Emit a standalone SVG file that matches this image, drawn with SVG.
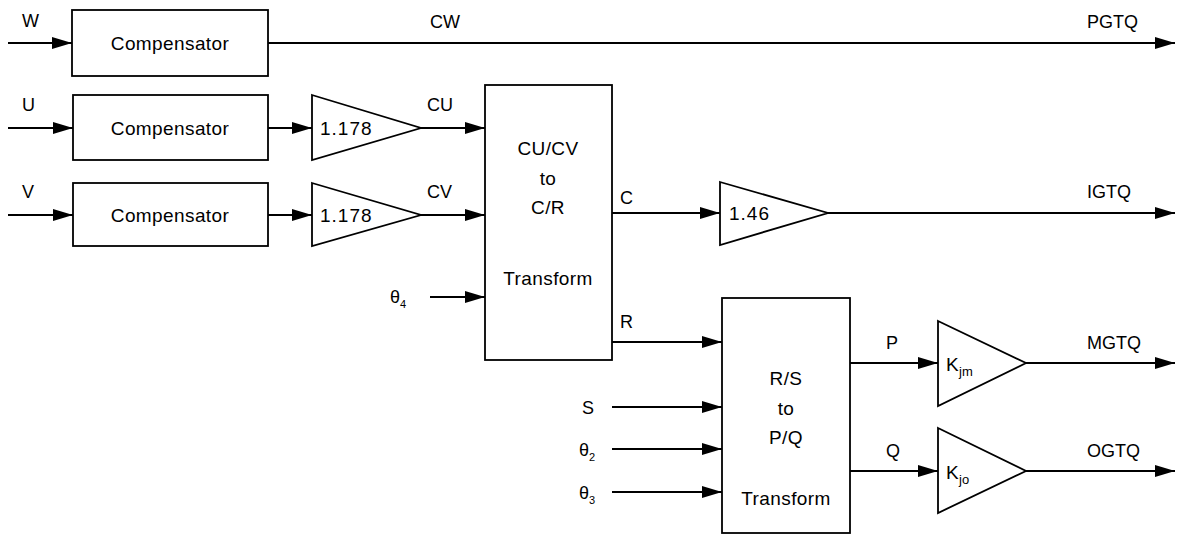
<svg xmlns="http://www.w3.org/2000/svg" width="1177" height="536" viewBox="0 0 1177 536">
<style>
.b{fill:#fff;stroke:#000;stroke-width:1.8}
.l{fill:none;stroke:#000;stroke-width:1.8}
text{font-family:"Liberation Sans",Arial,sans-serif;font-size:18px;fill:#000}
.m{text-anchor:middle}
.c{font-size:19px;letter-spacing:0.4px}
.g{font-size:19px;letter-spacing:1px}
.s{font-size:11px}
.k{font-size:13px;letter-spacing:0}
</style>
<defs>
<marker id="a" markerWidth="20" markerHeight="12" refX="20" refY="6" orient="auto" markerUnits="userSpaceOnUse">
<path d="M0,0 L20,6 L0,12 z" fill="#000"/>
</marker>
</defs>
<g id="connectors">
<path class="l" d="M8,43 H72" marker-end="url(#a)"/>
<path class="l" d="M268,43 H1175" marker-end="url(#a)"/>
<path class="l" d="M8,128 H73" marker-end="url(#a)"/>
<path class="l" d="M268,128 H312" marker-end="url(#a)"/>
<path class="l" d="M421,128 H485" marker-end="url(#a)"/>
<path class="l" d="M8,215 H73" marker-end="url(#a)"/>
<path class="l" d="M268,215 H312" marker-end="url(#a)"/>
<path class="l" d="M421,215 H485" marker-end="url(#a)"/>
<path class="l" d="M430,297 H485" marker-end="url(#a)"/>
<path class="l" d="M612,213 H720" marker-end="url(#a)"/>
<path class="l" d="M828,213 H1175" marker-end="url(#a)"/>
<path class="l" d="M612,342 H722" marker-end="url(#a)"/>
<path class="l" d="M612,407 H722" marker-end="url(#a)"/>
<path class="l" d="M612,449 H722" marker-end="url(#a)"/>
<path class="l" d="M612,492 H722" marker-end="url(#a)"/>
<path class="l" d="M850,363 H938" marker-end="url(#a)"/>
<path class="l" d="M1026,363 H1175" marker-end="url(#a)"/>
<path class="l" d="M850,471 H938" marker-end="url(#a)"/>
<path class="l" d="M1026,471 H1175" marker-end="url(#a)"/>
</g>
<g id="labels">
<text x="22" y="27">W</text>
<text x="22" y="111">U</text>
<text x="22" y="198">V</text>
<text x="430" y="28">CW</text>
<text x="1087" y="28">PGTQ</text>
<text x="427" y="111">CU</text>
<text x="427" y="198">CV</text>
<text x="1087" y="198">IGTQ</text>
<text x="620" y="204">C</text>
<text x="620" y="328">R</text>
<text x="390" y="303">θ<tspan class="s" dy="5">4</tspan></text>
<text x="582" y="414">S</text>
<text x="579" y="456">θ<tspan class="s" dy="5">2</tspan></text>
<text x="579" y="499">θ<tspan class="s" dy="5">3</tspan></text>
<text x="886" y="349">P</text>
<text x="886" y="457">Q</text>
<text x="1087" y="349">MGTQ</text>
<text x="1087" y="457">OGTQ</text>
</g>
<g id="compW"><rect class="b" x="72" y="10" width="196" height="66"/><text class="m c" x="170" y="50">Compensator</text></g>
<g id="compU"><rect class="b" x="73" y="95" width="195" height="65"/><text class="m c" x="170" y="135">Compensator</text></g>
<g id="compV"><rect class="b" x="73" y="183" width="195" height="63"/><text class="m c" x="170" y="222">Compensator</text></g>
<g id="gainU"><path class="b" d="M312,95 L421,128 L312,160 z"/><text class="g" x="320" y="135">1.178</text></g>
<g id="gainV"><path class="b" d="M312,183 L421,215 L312,246 z"/><text class="g" x="320" y="222">1.178</text></g>
<g id="cucv"><rect class="b" x="485" y="85" width="127" height="275"/>
<text class="m c" x="548" y="155">CU/CV</text><text class="m c" x="548" y="185">to</text><text class="m c" x="548" y="214">C/R</text><text class="m c" x="548" y="285">Transform</text></g>
<g id="gainC"><path class="b" d="M720,182 L828,213 L720,245 z"/><text class="g" x="729" y="220">1.46</text></g>
<g id="rsbox"><rect class="b" x="722" y="298" width="128" height="235"/>
<text class="m c" x="786" y="385">R/S</text><text class="m c" x="786" y="415">to</text><text class="m c" x="786" y="444">P/Q</text><text class="m c" x="786" y="505">Transform</text></g>
<g id="gainP"><path class="b" d="M938,321 L1026,363 L938,406 z"/><text class="c" x="946" y="371">K<tspan class="k" dy="5">jm</tspan></text></g>
<g id="gainQ"><path class="b" d="M938,428 L1026,471 L938,513 z"/><text class="c" x="946" y="479">K<tspan class="k" dy="5">jo</tspan></text></g>
</svg>
